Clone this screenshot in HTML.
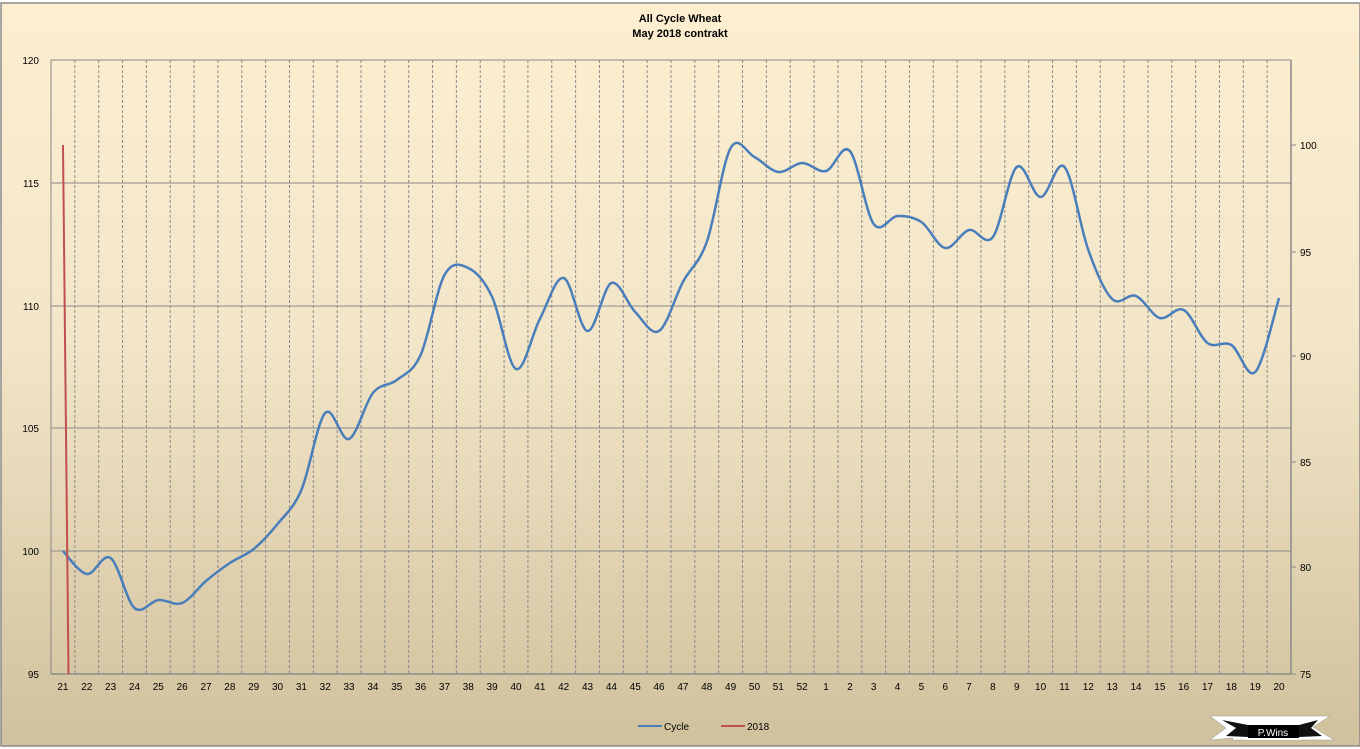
<!DOCTYPE html>
<html><head><meta charset="utf-8"><style>
html,body{margin:0;padding:0;width:1360px;height:749px;overflow:hidden;background:#fff}
svg{display:block;font-family:"Liberation Sans",sans-serif}
</style></head><body>
<svg id="s" width="1360" height="749" viewBox="0 0 1360 749" xmlns="http://www.w3.org/2000/svg">
<defs><linearGradient id="bg" x1="0" y1="0" x2="0" y2="1">
<stop offset="0" stop-color="#fdeed0"/><stop offset="0.45" stop-color="#f3e6c8"/><stop offset="1" stop-color="#d0c19d"/></linearGradient></defs>
<rect x="0" y="0" width="1360" height="749" fill="#fff"/>
<rect x="1" y="3" width="1359" height="743" fill="url(#bg)" stroke="#8a8a8a" stroke-width="1.5"/>
<text x="680" y="22" font-size="11" font-weight="bold" text-anchor="middle" fill="#000">All Cycle Wheat</text>
<text x="680" y="37" font-size="11" font-weight="bold" text-anchor="middle" fill="#000">May 2018 contrakt</text>
<g id="grid"></g>
<g id="data"></g>
<g font-size="10" fill="#000">
<line x1="638" y1="726" x2="662" y2="726" stroke="#4a7ebb" stroke-width="2"/><text x="664" y="730">Cycle</text>
<line x1="721" y1="726" x2="745" y2="726" stroke="#c0504d" stroke-width="2"/><text x="747" y="730">2018</text>
</g>
<g>
<polygon points="1210,716 1330,716 1313,727 1334,740 1232,740 1233,738 1210,740 1226,728" fill="#fff" stroke="#999" stroke-width="0.5"/>
<rect x="1247" y="724" width="53" height="15" fill="#000" stroke="#fff" stroke-width="2"/>
<polygon points="1222,720 1248,725 1248,737 1226,736 1236,728" fill="#111"/>
<polygon points="1318,720 1299,725 1299,737 1322,736 1311,728" fill="#111"/>
<text x="1273" y="736" font-size="10" fill="#fff" text-anchor="middle">P.Wins</text>
</g>
</svg>
<script>
const NS="http://www.w3.org/2000/svg";
const g=document.getElementById('grid'),d=document.getElementById('data');
function el(t,a,p,txt){const e=document.createElementNS(NS,t);for(const k in a)e.setAttribute(k,a[k]);if(txt!==undefined)e.textContent=txt;p.appendChild(e);return e;}
const L=51,R=1291,T=60,B=674,N=52,W=(R-L)/N;
// horizontal lines
[60,183,306,428,551].forEach(y=>el('line',{x1:L,x2:R,y1:y,y2:y,stroke:'#8a8a8a','stroke-width':1},g));
[[60,120],[183,115],[306,110],[428,105],[551,100],[674,95]].forEach(([y,v])=>el('text',{x:39,y:y+4,'font-size':10,'text-anchor':'end'},g,v));
for(let k=0;k<=N;k++){const x=L+k*W;el('line',{x1:x,x2:x,y1:T,y2:B,stroke:'#8a8a8a','stroke-width':1,'stroke-dasharray':k==0||k==N?'':'3,2'},g);}
el('line',{x1:L,x2:R,y1:B,y2:B,stroke:'#8a8a8a','stroke-width':1.5},g);
el('line',{x1:R,x2:R,y1:T,y2:B,stroke:'#8a8a8a','stroke-width':1.5},g);
[[145,100],[252,95],[356,90],[462,85],[567,80],[674,75]].forEach(([y,v])=>{el('line',{x1:R,x2:R+5,y1:y,y2:y,stroke:'#8a8a8a'},g);el('text',{x:R+9,y:y+4,'font-size':10},g,v);});
const labs=[];for(let i=21;i<=52;i++)labs.push(i);for(let i=1;i<=20;i++)labs.push(i);
labs.forEach((l,i)=>el('text',{x:L+W*(i+0.5),y:690,'font-size':10,'text-anchor':'middle'},g,l));
const ys=[551,574,558,608,600,603,581,563,549,524,490,413,439,393,380,355,275,268,297,369,319,278,331,283,312,331,282,242,148,157,172,163,171,151,224,216,222,248,230,237,167,197,167,250,299,296,318,310,343,345,372,298];
const P=ys.map((y,i)=>[L+W*(i+0.5),y]);
let p='M'+P[0][0]+','+P[0][1];
for(let i=0;i<P.length-1;i++){const p0=P[Math.max(i-1,0)],p1=P[i],p2=P[i+1],p3=P[Math.min(i+2,P.length-1)];const t=6;
p+=` C${p1[0]+(p2[0]-p0[0])/t},${p1[1]+(p2[1]-p0[1])/t} ${p2[0]-(p3[0]-p1[0])/t},${p2[1]-(p3[1]-p1[1])/t} ${p2[0]},${p2[1]}`;}
el('path',{d:p,fill:'none',stroke:'#4a7ebb','stroke-width':2.5},d);
el('line',{x1:63,y1:145,x2:68.5,y2:674,stroke:'#c0504d','stroke-width':2},d);
</script>
</body></html>
